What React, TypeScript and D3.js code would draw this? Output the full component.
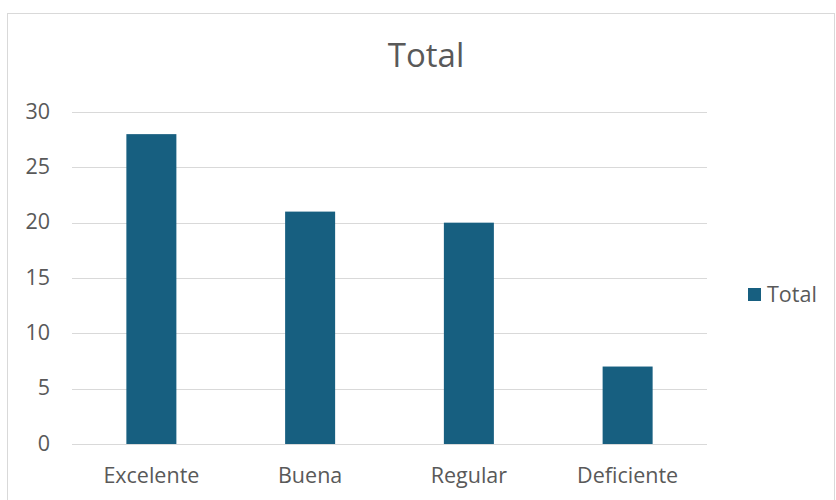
import React from "react";
import * as d3 from "d3";

const categories = ["Excelente", "Buena", "Regular", "Deficiente"];
const values = [28, 21, 20, 7];
const yTicks = [0, 5, 10, 15, 20, 25, 30];
const seriesName = "Total";
const chartTitle = "Total";

export default function App() {
  const W = 836, H = 500;
  const left = 72, right = 707, top = 112, bottom = 444;
  const x = d3.scaleBand<string>().domain(categories).range([left, right]).paddingInner(0.685).paddingOuter(0.3425);
  const y = d3.scaleLinear().domain([0, 30]).range([bottom, top]);
  const font = "'Open Sans', 'Noto Sans', sans-serif";
  const color = "#175f80";
  const textColor = "#595959";
  return (
    <svg width={W} height={H} style={{ position: "absolute", left: 0, top: 0, background: "#fff" }} fontFamily={font}>
      <rect x={7.5} y={13.5} width={827} height={500} fill="#fff" stroke="#d9d9d9" strokeWidth={1} />
      <text x={426} y={67} textAnchor="middle" fontSize={33} fill={textColor}>{chartTitle}</text>
      {yTicks.map(t => (
        <g key={t}>
          <line x1={left} x2={right} y1={Math.round(y(t)) + 0.5} y2={Math.round(y(t)) + 0.5} stroke="#d9d9d9" strokeWidth={1} />
          <text x={50} y={y(t) + 6.5} textAnchor="end" fontSize={21.5} fill={textColor}>{t}</text>
        </g>
      ))}
      {categories.map((c, i) => (
        <g key={c}>
          <rect x={x(c)} y={y(values[i])} width={x.bandwidth()} height={y(0) - y(values[i])} fill={color} />
          <text x={(x(c) as number) + x.bandwidth() / 2} y={483} textAnchor="middle" fontSize={21.5} fill={textColor}>{c}</text>
        </g>
      ))}
      <rect x={748} y={288} width={13} height={13} fill={color} />
      <text x={767} y={302} fontSize={21.5} fill={textColor}>{seriesName}</text>
    </svg>
  );
}
